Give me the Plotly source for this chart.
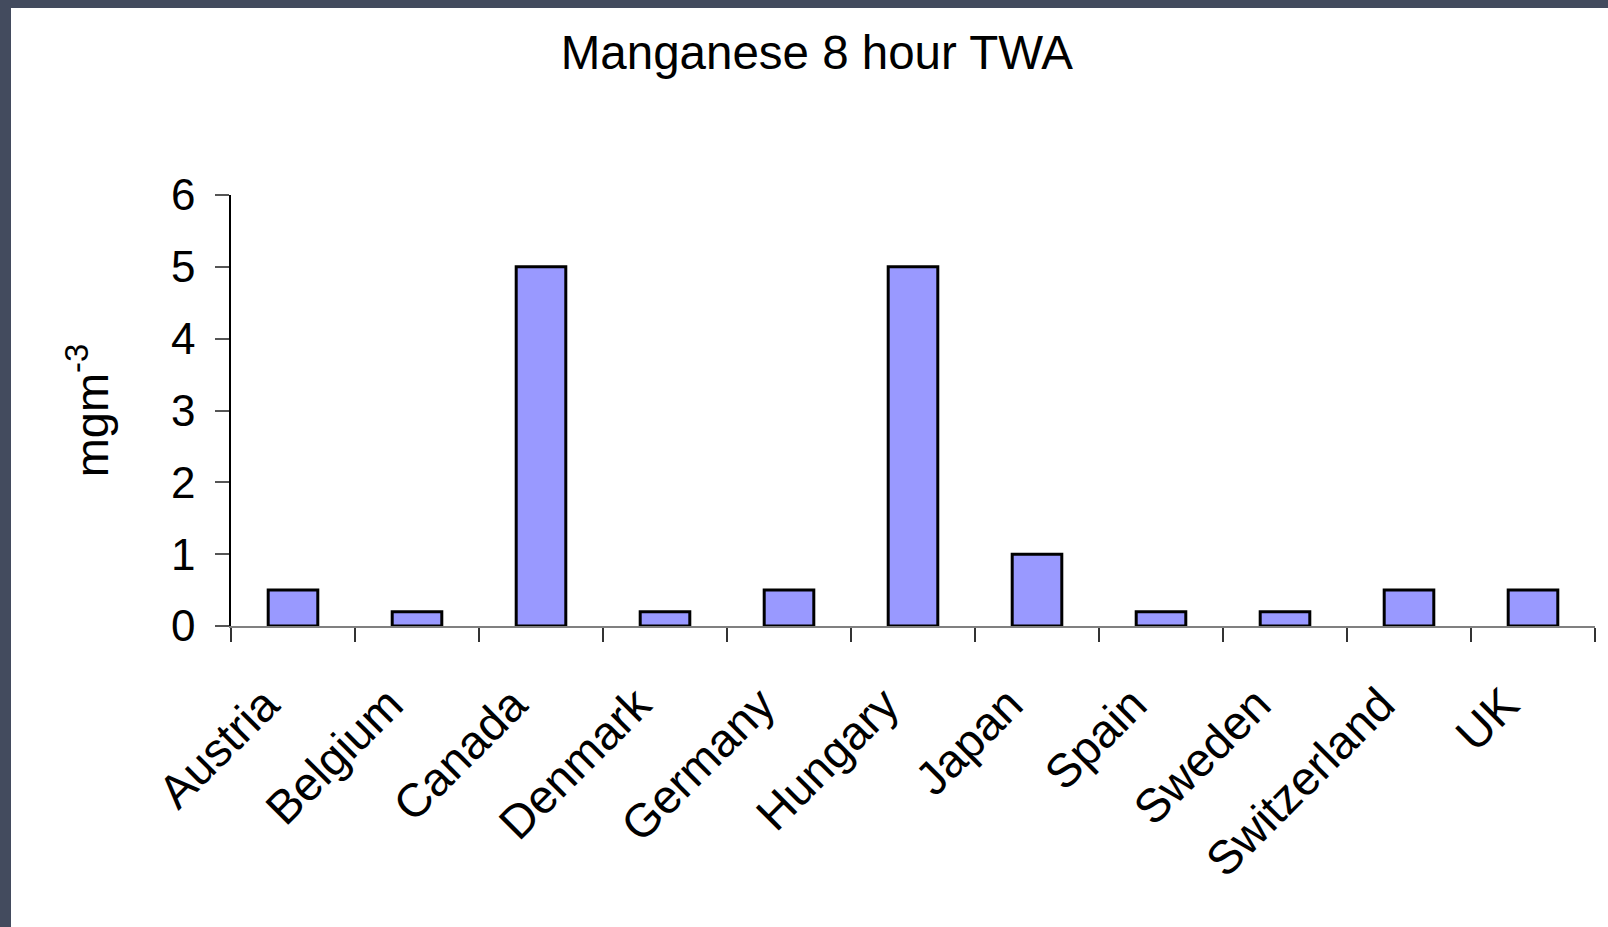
import plotly.graph_objects as go

countries = ["Austria", "Belgium", "Canada", "Denmark", "Germany", "Hungary",
             "Japan", "Spain", "Sweden", "Switzerland", "UK"]
twa_values = [0.5, 0.2, 5, 0.2, 0.5, 5, 1, 0.2, 0.2, 0.5, 0.5]
y_ticks = [0, 1, 2, 3, 4, 5, 6]

W, H = 1608, 927
L, R, T, B = 231, 1595, 195, 626
pw, ph = R - L, B - T

FONT = "Liberation Sans, Arial, sans-serif"

fig = go.Figure(go.Bar(
    x=countries, y=twa_values,
    marker=dict(color="#9999FF", line=dict(color="#000000", width=3)),
))

# white page on dark slate frame (left and top edges)
fig.add_shape(type="rect", xref="paper", yref="paper", layer="below",
              x0=(11 - L) / pw, x1=(W + 5 - L) / pw,
              y0=(B - (H + 5)) / ph, y1=(B - 8) / ph,
              fillcolor="white", line=dict(width=0))

fig.update_layout(
    width=W, height=H,
    margin=dict(l=L, r=W - R, t=T, b=H - B),
    paper_bgcolor="#434b5e",
    plot_bgcolor="rgba(0,0,0,0)",
    bargap=0.6,
    showlegend=False,
    font=dict(family=FONT, color="#000000"),
    title=dict(text="Manganese 8 hour TWA", x=0.508, xanchor="center",
               y=0.944, yanchor="middle", xref="container", yref="container",
               font=dict(size=47.5, family=FONT, color="#000000")),
    xaxis=dict(
        type="category", showline=True, linecolor="#808080", linewidth=2,
        ticks="outside", ticklen=14, tickwidth=1.5, tickcolor="#333333",
        tickson="boundaries", tickangle=-45,
        tickfont=dict(size=47, family=FONT, color="#000000"),
        showgrid=False, zeroline=False, fixedrange=True,
        ticklabelstandoff=30, ticklabelshift=-28,
    ),
    yaxis=dict(
        range=[0, 6], tickvals=y_ticks, showline=True, linecolor="#000000",
        linewidth=1.5, ticks="outside", ticklen=14, tickwidth=1.5,
        tickcolor="#555555", showgrid=False, zeroline=False,
        tickfont=dict(size=44, family=FONT, color="#000000"),
        title=dict(text="mgm<sup>-3</sup>", standoff=48,
                   font=dict(size=47, family=FONT, color="#000000")),
        ticklabelstandoff=11,
    ),
)

fig.write_html("out.html", config={"displayModeBar": False},
               post_script="document.body.style.margin='0';")
